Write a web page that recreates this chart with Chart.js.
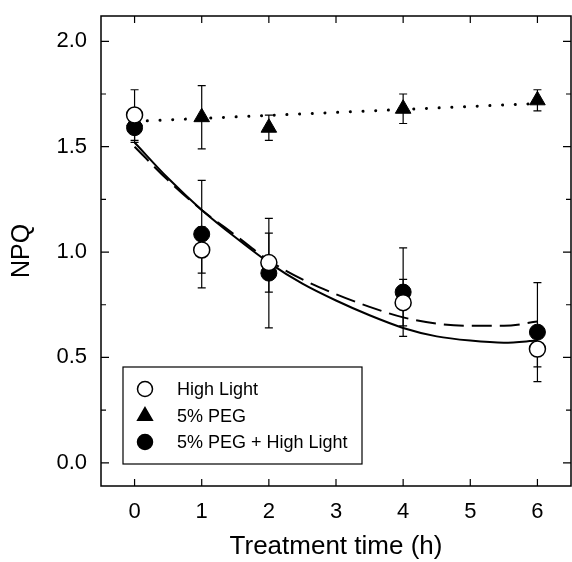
<!DOCTYPE html>
<html>
<head>
<meta charset="utf-8">
<script src="https://cdn.jsdelivr.net/npm/chart.js@4"></script>
<style>
  html, body { margin: 0; padding: 0; background: #fff; overflow: hidden; }
  #wrap { width: 572px; height: 562px; }
  canvas { display: block; }
</style>
</head>
<body>
<div id="wrap"><canvas id="myChart" width="572" height="562"></canvas></div>
<script>
// measured values
const times = [0, 1, 2, 4, 6];
const highLight = [1.65, 1.01, 0.95, 0.76, 0.54];
const highLightErr = [0.12, 0.11, 0.14, 0.11, 0.085];
const peg = [1.62, 1.64, 1.59, 1.68, 1.72];
const pegErr = [0.05, 0.15, 0.06, 0.07, 0.05];
const pegHigh = [1.59, 1.085, 0.90, 0.81, 0.62];
const pegHighErr = [0.07, 0.255, 0.26, 0.21, 0.235];

// fitted curves
const fitX = [0, 0.5, 1, 1.5, 2, 2.5, 3, 3.5, 4, 4.5, 5, 5.5, 6];
const fitHighLight = [1.52, 1.35, 1.20, 1.07, 0.95, 0.85, 0.77, 0.70, 0.64, 0.60, 0.58, 0.57, 0.58];
const fitPegHigh = [1.50, 1.34, 1.20, 1.08, 0.96, 0.87, 0.80, 0.74, 0.69, 0.66, 0.65, 0.65, 0.67];
const fitPegX = [0, 6];
const fitPeg = [1.62, 1.705];

const xTicks = [0, 1, 2, 3, 4, 5, 6];
const yTicks = [0, 0.25, 0.5, 0.75, 1.0, 1.25, 1.5, 1.75, 2.0];
const yTickLabels = ["0.0", "", "0.5", "", "1.0", "", "1.5", "", "2.0"];

const fontFam = "'Liberation Sans', Arial, sans-serif";

function pts(xs, ys) {
  return xs.map((x, i) => ({ x: x, y: ys[i] }));
}

const errorBars = {
  id: "errorBars",
  beforeDatasetsDraw(chart) {
    const ctx = chart.ctx;
    const xs = chart.scales.x, ys = chart.scales.y;
    ctx.save();
    ctx.strokeStyle = "#000";
    ctx.lineWidth = 1.2;
    chart.data.datasets.forEach(ds => {
      if (!ds.err) return;
      ds.data.forEach((p, i) => {
        const px = xs.getPixelForValue(p.x);
        const top = ys.getPixelForValue(p.y + ds.err[i]);
        const bot = ys.getPixelForValue(p.y - ds.err[i]);
        ctx.beginPath();
        ctx.moveTo(px, top); ctx.lineTo(px, bot);
        ctx.moveTo(px - 4, top); ctx.lineTo(px + 4, top);
        ctx.moveTo(px - 4, bot); ctx.lineTo(px + 4, bot);
        ctx.stroke();
      });
    });
    ctx.restore();
  }
};

const frame = {
  id: "frame",
  afterDraw(chart) {
    const ctx = chart.ctx;
    const a = chart.chartArea;
    const xs = chart.scales.x, ys = chart.scales.y;
    ctx.save();
    ctx.strokeStyle = "#000";
    ctx.lineWidth = 1.5;
    ctx.strokeRect(a.left, a.top, a.right - a.left, a.bottom - a.top);
    ctx.lineWidth = 1.2;
    ctx.beginPath();
    xTicks.forEach(v => {
      const px = xs.getPixelForValue(v);
      ctx.moveTo(px, a.bottom); ctx.lineTo(px, a.bottom - 7);
      ctx.moveTo(px, a.top); ctx.lineTo(px, a.top + 7);
    });
    yTicks.forEach((v, i) => {
      const py = ys.getPixelForValue(v);
      const len = yTickLabels[i] ? 8 : 5;
      ctx.moveTo(a.left, py); ctx.lineTo(a.left + len, py);
      ctx.moveTo(a.right, py); ctx.lineTo(a.right - len, py);
    });
    ctx.stroke();
    ctx.restore();
  }
};

const boxLegend = {
  id: "boxLegend",
  afterDraw(chart) {
    const ctx = chart.ctx;
    const left = 123, top = 367, w = 239, h = 97;
    const rows = [389, 416, 442];
    ctx.save();
    ctx.fillStyle = "#fff";
    ctx.fillRect(left, top, w, h);
    ctx.strokeStyle = "#000";
    ctx.lineWidth = 1.2;
    ctx.strokeRect(left, top, w, h);
    ctx.font = "18px " + fontFam;
    ctx.textBaseline = "middle";
    chart.data.datasets.slice(0, 3).forEach((ds, i) => {
      ctx.fillStyle = ds.backgroundColor;
      ctx.strokeStyle = "#000";
      ctx.lineWidth = 1.5;
      Chart.helpers.drawPoint(ctx, {
        pointStyle: ds.pointStyle,
        radius: ds.pointStyle === "triangle" ? 8.5 : 7.5,
        rotation: 0,
        borderWidth: 1.5
      }, 145, rows[i]);
      ctx.fillStyle = "#000";
      ctx.fillText(ds.label, 177, rows[i] + 1);
    });
    ctx.restore();
  }
};

const ctx = document.getElementById("myChart");
new Chart(ctx, {
  type: "scatter",
  data: {
    datasets: [
      {
        label: "High Light",
        data: pts(times, highLight),
        err: highLightErr,
        pointStyle: "circle",
        pointRadius: 8,
        backgroundColor: "#fff",
        borderColor: "#000",
        borderWidth: 1.5
      },
      {
        label: "5% PEG",
        data: pts(times, peg),
        err: pegErr,
        pointStyle: "triangle",
        pointRadius: 9,
        backgroundColor: "#000",
        borderColor: "#000",
        borderWidth: 1
      },
      {
        label: "5% PEG + High Light",
        data: pts(times, pegHigh),
        err: pegHighErr,
        pointStyle: "circle",
        pointRadius: 8,
        backgroundColor: "#000",
        borderColor: "#000",
        borderWidth: 1
      },
      {
        label: "fit HL",
        data: pts(fitX, fitHighLight),
        showLine: true,
        pointRadius: 0,
        borderColor: "#000",
        borderWidth: 2,
        cubicInterpolationMode: "monotone"
      },
      {
        label: "fit PEG+HL",
        data: pts(fitX, fitPegHigh),
        showLine: true,
        pointRadius: 0,
        borderColor: "#000",
        borderWidth: 2,
        borderDash: [20, 8],
        cubicInterpolationMode: "monotone"
      },
      {
        label: "fit PEG",
        data: pts(fitPegX, fitPeg),
        showLine: true,
        pointRadius: 0,
        borderColor: "#000",
        borderWidth: 3,
        borderCapStyle: "round",
        borderDash: [0.1, 12.6]
      }
    ]
  },
  options: {
    responsive: false,
    animation: false,
    layout: { autoPadding: false, padding: { top: 16, right: 1, left: 0, bottom: 0 } },
    plugins: { legend: { display: false }, tooltip: { enabled: false } },
    scales: {
      x: {
        type: "linear",
        min: -0.5,
        max: 6.5,
        grid: { display: false, drawTicks: false },
        border: { display: false },
        afterBuildTicks: s => { s.ticks = xTicks.map(v => ({ value: v })); },
        afterFit: s => { s.height = 76; s.paddingLeft = 0; s.paddingRight = 0; },
        ticks: {
          color: "#000",
          padding: 13,
          maxRotation: 0,
          font: { family: fontFam, size: 22 },
          callback: v => String(v)
        },
        title: {
          display: true,
          text: "Treatment time (h)",
          color: "#000",
          padding: { top: 0, bottom: 0 },
          font: { family: fontFam, size: 26 }
        }
      },
      y: {
        min: -0.11,
        max: 2.12,
        grid: { display: false, drawTicks: false },
        border: { display: false },
        afterBuildTicks: s => { s.ticks = yTicks.map(v => ({ value: v })); },
        afterFit: s => { s.width = 101; s.paddingTop = 0; s.paddingBottom = 0; },
        ticks: {
          color: "#000",
          padding: 14,
          font: { family: fontFam, size: 22 },
          callback: (v, i) => yTickLabels[i]
        },
        title: {
          display: true,
          text: "NPQ",
          color: "#000",
          padding: { top: 7, bottom: 0 },
          font: { family: fontFam, size: 25 }
        }
      }
    }
  },
  plugins: [errorBars, frame, boxLegend]
});
</script>
</body>
</html>
